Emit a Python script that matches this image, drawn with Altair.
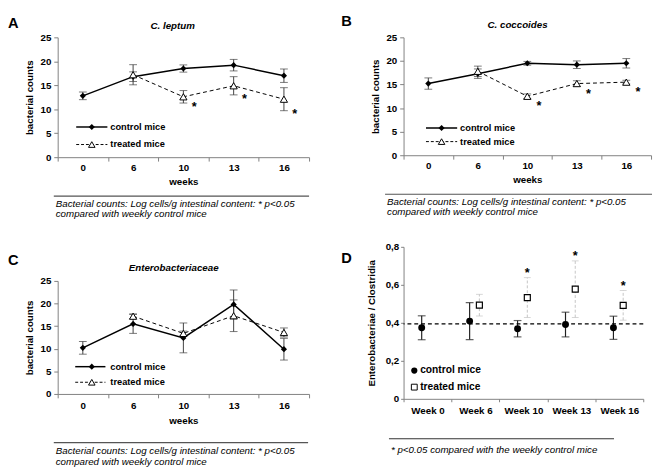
import altair as alt
import pandas as pd

FONT = "Liberation Sans"

weeks = ["0", "6", "10", "13", "16"]
week_labels = ["Week 0", "Week 6", "Week 10", "Week 13", "Week 16"]

# Panel A: C. leptum (log cells/g)
leptum_control = [12.8, 16.8, 18.5, 19.2, 17.0]
leptum_control_err = [0.8, 1.0, 0.75, 1.2, 1.4]
leptum_treated = [None, 17.2, 12.6, 14.9, 12.1]
leptum_treated_err = [None, 2.1, 1.3, 1.9, 2.4]
leptum_signif = [False, False, True, True, True]

# Panel B: C. coccoides
coccoides_control = [15.2, 17.3, 19.5, 19.2, 19.5]
coccoides_control_err = [1.2, 1.0, 0.4, 0.8, 1.0]
coccoides_treated = [None, 17.8, 12.5, 15.2, 15.5]
coccoides_treated_err = [None, 1.1, 0.5, 0.6, 0.4]
coccoides_signif = [False, False, True, True, True]

# Panel C: Enterobacteriaceae
entero_control = [10.2, 15.5, 12.4, 19.8, 9.9]
entero_control_err = [1.4, 2.1, 3.3, 3.2, 2.4]
entero_treated = [None, 17.2, 13.4, 17.3, 13.6]
entero_treated_err = [None, 0.5, 0.5, 3.5, 1.0]
entero_signif = [False, False, False, False, False]

# Panel D: Enterobacteriae / Clostridia ratio
ratio_control = [0.374, 0.409, 0.369, 0.391, 0.374]
ratio_control_err = [0.063, 0.097, 0.043, 0.065, 0.061]
ratio_treated = [None, 0.493, 0.533, 0.577, 0.492]
ratio_treated_err = [None, 0.057, 0.105, 0.149, 0.078]
ratio_signif = [False, False, True, True, True]
ratio_reference = 0.395

footnote_counts = ["Bacterial counts: Log cells/g intestinal content: * p<0.05",
                   "compared with weekly control mice"]
footnote_ratio = "* p<0.05 compared with the weekly control mice"

one = pd.DataFrame({"k": [0]})


def frame(cats, values, errs, signif):
    rows = []
    for c, v, e, s in zip(cats, values, errs, signif):
        if v is None:
            continue
        rows.append({"cat": c, "value": v, "lo": v - e, "hi": v + e, "sig": bool(s)})
    return pd.DataFrame(rows)


def label(text, x, y, size=10, weight="bold", style="normal", align="left",
          baseline="middle", color="black", line_height=None):
    props = dict(align=align, baseline=baseline, fontSize=size, fontWeight=weight,
                 fontStyle=style, color=color, font=FONT)
    if line_height:
        props["lineHeight"] = line_height
    return alt.Chart(one).mark_text(**props).encode(
        x=alt.value(x), y=alt.value(y), text=alt.value(text))


def hline(x1, x2, y, color="black", width=1.0, dash=None):
    props = dict(color=color, strokeWidth=width)
    if dash:
        props["strokeDash"] = dash
    return alt.Chart(one).mark_rule(**props).encode(
        x=alt.value(x1), x2=alt.value(x2), y=alt.value(y))


def marker(x, y, shape, size, filled, stroke_width=1.0):
    if filled:
        m = alt.Chart(one).mark_point(shape=shape, size=size, filled=True, color="black", opacity=1)
    else:
        m = alt.Chart(one).mark_point(shape=shape, size=size, fill="white", stroke="black",
                                      strokeWidth=stroke_width, opacity=1)
    return m.encode(x=alt.value(x), y=alt.value(y))


def line_panel(letter, title, control, cerr, treated, terr, signif, lay):
    w, h = lay["w"], lay["h"]
    c = frame(weeks, control, cerr, [False] * 5)
    t = frame(weeks, treated, terr, signif)
    s = t[t["sig"]]

    xenc = alt.X("cat:N", sort=weeks,
                 scale=alt.Scale(domain=weeks, paddingInner=0, paddingOuter=0),
                 axis=alt.Axis(title="weeks", tickBand="extent", labelPadding=lay["xlp"],
                               titlePadding=lay["xtp"], tickSize=4))
    yaxis = alt.Axis(values=[0, 5, 10, 15, 20, 25], title="bacterial counts",
                     labelPadding=3, titlePadding=6, tickSize=4)
    ysc = alt.Scale(domain=[0, 25], nice=False)

    def Y(f):
        return alt.Y(f + ":Q", scale=ysc, axis=yaxis)

    ebar = "#404040"
    layers = []
    for df in (c, t):
        layers.append(alt.Chart(df).mark_rule(color=ebar, strokeWidth=1).encode(x=xenc, y=Y("lo"), y2="hi:Q"))
        layers.append(alt.Chart(df).mark_tick(color=ebar, size=8, thickness=1).encode(x=xenc, y=Y("lo")))
        layers.append(alt.Chart(df).mark_tick(color=ebar, size=8, thickness=1).encode(x=xenc, y=Y("hi")))
    layers.append(alt.Chart(c).mark_line(color="black", strokeWidth=1.5).encode(x=xenc, y=Y("value")))
    layers.append(alt.Chart(t).mark_line(color="black", strokeWidth=1, strokeDash=[4, 3]).encode(x=xenc, y=Y("value")))
    layers.append(alt.Chart(c).mark_point(shape="diamond", size=40, filled=True, color="black", opacity=1)
                  .encode(x=xenc, y=Y("value")))
    layers.append(alt.Chart(t).mark_point(shape="triangle-up", size=55, fill="white", stroke="black",
                                          strokeWidth=1, opacity=1).encode(x=xenc, y=Y("value")))
    if len(s):
        layers.append(alt.Chart(s).mark_text(text="*", fontSize=13, fontWeight="bold", font=FONT,
                                             dx=lay["sdx"], dy=lay["sdy"], color="black")
                      .encode(x=xenc, y=Y("lo")))

    # legend
    lx1, lx2, lm, lt, ly1, ly2 = lay["legend"]
    layers += [
        hline(lx1, lx2, ly1, width=1.5),
        marker(lm, ly1, "diamond", 40, True),
        label("control mice", lt, ly1, size=9.5),
        hline(lx1, lx2, ly2, width=1, dash=[3, 2]),
        marker(lm, ly2, "triangle-up", 45, False),
        label("treated mice", lt, ly2, size=9.5),
    ]
    # panel letter, title, footnote
    layers += [
        label(letter, lay["lx"], lay["ly"], size=15, baseline="top"),
        label(title, lay["tx"], lay["ty"], size=10, style="italic", align="center"),
        hline(lay["fx1"], lay["fx2"], lay["fy"], color="#555555", width=1.2),
        label(footnote_counts, lay["fx1"] + 2, lay["fty"], size=10, weight="normal", style="italic",
              baseline="top", line_height=10.5),
    ]
    return alt.layer(*layers).properties(width=w, height=h)


def ratio_panel():
    w, h = 246, 156
    c = frame(week_labels, ratio_control, ratio_control_err, [False] * 5)
    t = frame(week_labels, ratio_treated, ratio_treated_err, ratio_signif)
    s = t[t["sig"]]
    xenc = alt.X("cat:N", sort=week_labels,
                 scale=alt.Scale(domain=week_labels, paddingInner=0, paddingOuter=0),
                 axis=alt.Axis(title=None, tickBand="extent", labelPadding=4, tickSize=3))
    yaxis = alt.Axis(values=[0, 0.2, 0.4, 0.6, 0.8], title="Enterobacteriae / Clostridia",
                     labelExpr="datum.value == 0 ? '0' : replace(format(datum.value, '.1f'), '.', ',')",
                     labelPadding=2, titlePadding=9, tickSize=3)
    ysc = alt.Scale(domain=[0, 0.8], nice=False)

    def Y(f):
        return alt.Y(f + ":Q", scale=ysc, axis=yaxis)

    co, to = -6, 4
    layers = [
        alt.Chart(c).mark_rule(color="#202020", strokeWidth=1.2, xOffset=co).encode(x=xenc, y=Y("lo"), y2="hi:Q"),
        alt.Chart(c).mark_tick(color="#202020", size=8, thickness=1.2, xOffset=co).encode(x=xenc, y=Y("lo")),
        alt.Chart(c).mark_tick(color="#202020", size=8, thickness=1.2, xOffset=co).encode(x=xenc, y=Y("hi")),
        alt.Chart(t).mark_rule(color="#c4c4c4", strokeWidth=1, strokeDash=[3, 2], xOffset=to)
        .encode(x=xenc, y=Y("lo"), y2="hi:Q"),
        alt.Chart(t).mark_tick(color="#c4c4c4", size=7, thickness=1, xOffset=to).encode(x=xenc, y=Y("lo")),
        alt.Chart(t).mark_tick(color="#c4c4c4", size=7, thickness=1, xOffset=to).encode(x=xenc, y=Y("hi")),
        alt.Chart(pd.DataFrame({"ref": [ratio_reference]})).mark_rule(color="black", strokeWidth=1.3,
                                                                       strokeDash=[4, 3])
        .encode(y=alt.Y("ref:Q", scale=ysc, axis=yaxis)),
        alt.Chart(c).mark_point(shape="circle", size=50, filled=True, color="black", opacity=1, xOffset=co)
        .encode(x=xenc, y=Y("value")),
        alt.Chart(t).mark_point(shape="square", size=38, fill="white", stroke="black", strokeWidth=1.2,
                                opacity=1, xOffset=to).encode(x=xenc, y=Y("value")),
        alt.Chart(s).mark_text(text="*", fontSize=13, fontWeight="bold", font=FONT, xOffset=to, dy=-5,
                               color="black").encode(x=xenc, y=Y("hi")),
        marker(11, 127, "circle", 40, True),
        label("control mice", 17, 127, size=10.5),
        marker(11, 144, "square", 36, False),
        label("treated mice", 17, 144, size=10.5),
        label("D", -64, 5, size=15, baseline="top"),
        hline(-15, 216, 197, color="#333333", width=1.2),
        label(footnote_ratio, -13, 208.5, size=10, weight="normal", style="italic"),
    ]
    return alt.layer(*layers).properties(width=w, height=h)


lay_a = dict(w=258, h=123, xlp=2, xtp=4, sdx=11, sdy=4,
             legend=(19, 51, 35, 54, 92, 110), lx=-51, ly=-22, tx=118, ty=-12,
             fx1=-4, fx2=258, fy=163, fty=166)
lay_b = dict(w=254, h=121, xlp=2, xtp=4, sdx=12, sdy=8,
             legend=(23, 55, 39, 58, 93, 107), lx=-64, ly=-24, tx=117, ty=-13,
             fx1=-19, fx2=255, fy=161, fty=164)
lay_c = dict(w=258, h=116, xlp=3, xtp=5, sdx=10, sdy=6,
             legend=(18, 49, 35, 54, 88, 104), lx=-51, ly=-28, tx=119, ty=-13,
             fx1=-4, fx2=257, fy=166, fty=170)

panel_a = line_panel("A", "C. leptum", leptum_control, leptum_control_err, leptum_treated,
                     leptum_treated_err, leptum_signif, lay_a)
panel_b = line_panel("B", "C. coccoides", coccoides_control, coccoides_control_err, coccoides_treated,
                     coccoides_treated_err, coccoides_signif, lay_b)
panel_c = line_panel("C", "Enterobacteriaceae", entero_control, entero_control_err, entero_treated,
                     entero_treated_err, entero_signif, lay_c)
panel_d = ratio_panel()

left = alt.vconcat(panel_a, panel_c, spacing=127, bounds="flush")
right = alt.vconcat(panel_b, panel_d, spacing=94, bounds="flush")

chart = alt.hconcat(left, right, spacing=32).properties(padding=0).configure_view(
    stroke=None
).configure_axis(
    labelFont=FONT, titleFont=FONT, labelFontSize=10, titleFontSize=10,
    labelFontWeight="bold", titleFontWeight="bold", labelColor="black", titleColor="black",
    domainColor="#808080", tickColor="#808080", grid=False, labelAngle=0
)

chart.save("out.html", embed_options={"renderer": "svg", "actions": False})
